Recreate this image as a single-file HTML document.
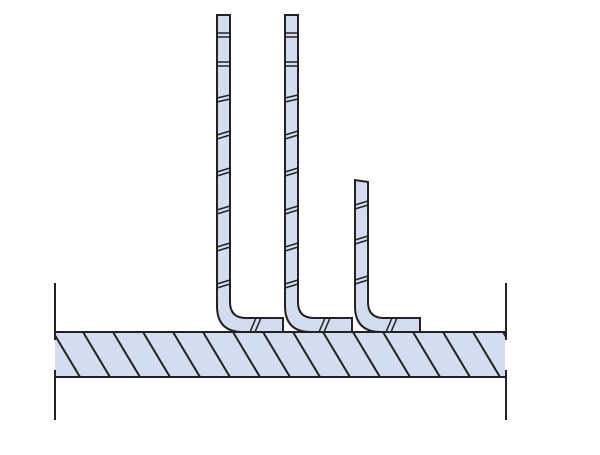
<!DOCTYPE html>
<html><head><style>body{margin:0;background:#fff}</style></head><body>
<svg width="600" height="450" viewBox="0 0 600 450" xmlns="http://www.w3.org/2000/svg">
<defs><clipPath id="slab"><rect x="55" y="332" width="450" height="45"/></clipPath></defs>
<rect x="55" y="332" width="450" height="45" fill="#d3ddef"/>
<g clip-path="url(#slab)" stroke="#222" stroke-width="2">
<path d="M23,332 l27,45 M53,332 l27,45 M83,332 l27,45 M113,332 l27,45 M143,332 l27,45 M173,332 l27,45 M203,332 l27,45 M233,332 l27,45 M263,332 l27,45 M293,332 l27,45 M323,332 l27,45 M353,332 l27,45 M383,332 l27,45 M413,332 l27,45 M443,332 l27,45 M473,332 l27,45 M503,332 l27,45"/>
</g>
<g stroke="#222" stroke-width="2" fill="none">
<line x1="55" y1="332" x2="505" y2="332"/>
<line x1="55" y1="377" x2="505" y2="377"/>
<line x1="55" y1="283" x2="55" y2="340"/><line x1="55" y1="370" x2="55" y2="420"/>
<line x1="506" y1="283" x2="506" y2="340"/><line x1="506" y1="370" x2="506" y2="420"/>
</g>
<g fill="#d3ddef" stroke="#222" stroke-width="2">
<path d="M217,15 L217,306 Q217,332 243,332 L283,332 L283,318 L246,318 Q230,318 230,302 L230,15 Z"/>
<path d="M285,15 L285,306 Q285,332 311,332 L352,332 L352,318 L314,318 Q298,318 298,302 L298,15 Z"/>
<path d="M355,180 L355,306 Q355,332 381,332 L420,332 L420,318 L384,318 Q368,318 368,302 L368,182 Z"/>
</g>
<g stroke="#222" stroke-width="1.5">
<path d="M217,33 l13,0 M217,37 l13,0 M217,62 l13,0 M217,66 l13,0 M217,98 l13,-3 M217,102 l13,-3 M217,135 l13,-4 M217,139 l13,-4 M217,172 l13,-4 M217,176 l13,-4 M217,210 l13,-4 M217,214 l13,-4 M217,247 l13,-4 M217,251 l13,-4 M217,284 l13,-4 M217,288 l13,-4"/>
<path d="M285,33 l13,0 M285,37 l13,0 M285,62 l13,0 M285,66 l13,0 M285,98 l13,-3 M285,102 l13,-3 M285,135 l13,-4 M285,139 l13,-4 M285,172 l13,-4 M285,176 l13,-4 M285,210 l13,-4 M285,214 l13,-4 M285,247 l13,-4 M285,251 l13,-4 M285,284 l13,-4 M285,288 l13,-4"/>
<path d="M355,205 l13,-4 M355,209 l13,-4 M355,240 l13,-4 M355,244 l13,-4 M355,280 l13,-4 M355,284 l13,-4"/>
<path d="M250,332 l6,-14 M255,332 l6,-14 M319,332 l6,-14 M324,332 l6,-14 M386,332 l6,-14 M391,332 l6,-14"/>
</g>
</svg>
</body></html>
